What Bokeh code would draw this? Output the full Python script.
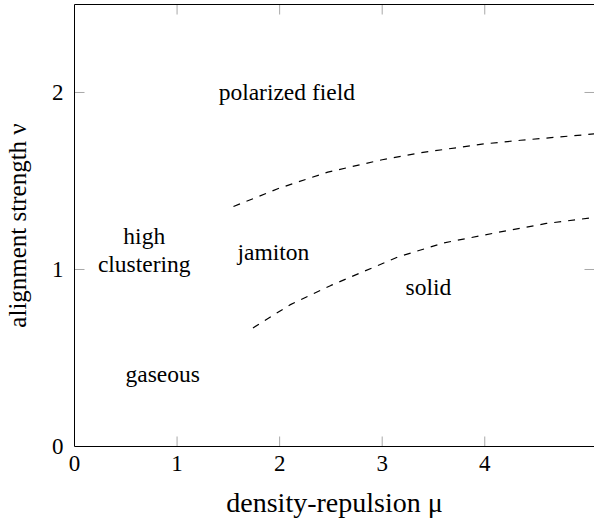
import math
from bokeh.plotting import figure
from bokeh.models import LinearAxis, FixedTicker, Range1d, ColumnDataSource
from bokeh.core.properties import value
from bokeh.embed import file_html
from bokeh.resources import INLINE

# Phase boundaries
upper_mu = [1.55, 2.0, 2.47, 3.0, 3.38, 4.0, 4.35, 5.15]
upper_nu = [1.356, 1.46, 1.55, 1.62, 1.66, 1.71, 1.73, 1.77]
lower_mu = [1.74, 2.1, 2.5, 3.15, 3.6, 4.13, 4.6, 5.15]
lower_nu = [0.67, 0.80, 0.91, 1.07, 1.15, 1.21, 1.26, 1.30]

# Region labels
region_labels = ["polarized field", "high\nclustering", "jamiton", "solid", "gaseous"]
region_mu = [2.07, 0.68, 1.94, 3.45, 0.86]
region_nu = [2.0, 1.11, 1.10, 0.90, 0.41]

x_ticks = [0, 1, 2, 3, 4]
y_ticks = [0, 1, 2]

FONT = "Liberation Serif"
TICK_COLOR = "#a8a8a8"
TICK_LEN = 10

x_range = Range1d(0, 5.07)
y_range = Range1d(0, 2.497)

p = figure(frame_width=520, frame_height=442,
           x_range=x_range, y_range=y_range,
           output_backend="svg", toolbar_location=None,
           min_border_left=66, min_border_right=0, min_border_top=4,
           min_border_bottom=0)
p.background_fill_color = "white"
p.border_fill_color = "white"
p.outline_line_color = None
p.xgrid.visible = False
p.ygrid.visible = False

for ax, ticks in ((p.xaxis[0], x_ticks), (p.yaxis[0], y_ticks)):
    ax.ticker = FixedTicker(ticks=ticks)
    ax.minor_tick_line_color = None
    ax.major_tick_line_color = None
    ax.major_tick_in = 0
    ax.major_tick_out = 0
    ax.axis_line_color = "black"
    ax.axis_line_width = 1
    ax.major_label_text_font = FONT
    ax.major_label_text_font_size = "23px"
    ax.major_label_text_color = "black"
    ax.axis_label_text_font = FONT
    ax.axis_label_text_font_style = "normal"
    ax.axis_label_text_color = "black"

p.xaxis[0].axis_label = "density-repulsion μ"
p.yaxis[0].axis_label = "alignment strength ν"
p.xaxis[0].axis_label_text_font_size = "28px"
p.yaxis[0].axis_label_text_font_size = "25px"
p.xaxis[0].major_label_standoff = 9
p.xaxis[0].axis_label_standoff = 13
p.yaxis[0].major_label_standoff = 11
p.yaxis[0].axis_label_standoff = 18

# top edge line (ticks drawn separately)
top = LinearAxis(ticker=FixedTicker(ticks=x_ticks))
top.minor_tick_line_color = None
top.major_tick_line_color = None
top.major_tick_in = 0
top.major_tick_out = 0
top.major_label_overrides = {t: "" for t in x_ticks}
top.major_label_standoff = 0
top.axis_line_color = "black"
p.add_layout(top, "above")

# inward tick marks on all four sides (pgfplots style)
xt = [t for t in x_ticks if t > 0]
yt = [t for t in y_ticks if t > 0]
p.ray(x=xt, y=[y_range.start] * len(xt), length=TICK_LEN, length_units="screen",
      angle=math.pi / 2, line_color=TICK_COLOR, line_width=1)
p.ray(x=xt, y=[y_range.end] * len(xt), length=TICK_LEN, length_units="screen",
      angle=-math.pi / 2, line_color=TICK_COLOR, line_width=1)
p.ray(x=[x_range.start] * len(yt), y=yt, length=TICK_LEN, length_units="screen",
      angle=0, line_color=TICK_COLOR, line_width=1)
p.ray(x=[x_range.end] * len(yt), y=yt, length=TICK_LEN, length_units="screen",
      angle=math.pi, line_color=TICK_COLOR, line_width=1)

p.line(upper_mu, upper_nu, line_color="black", line_width=1.2, line_dash="7 7")
p.line(lower_mu, lower_nu, line_color="black", line_width=1.2, line_dash="7 7")

src = ColumnDataSource(dict(x=region_mu, y=region_nu, t=region_labels))
p.text(x="x", y="y", text="t", source=src, text_font=value(FONT),
       text_font_size="23.5px", text_align="center", text_baseline="middle",
       text_color="black", text_line_height=1.1)

open("out.html", "w").write(file_html(p, INLINE))
